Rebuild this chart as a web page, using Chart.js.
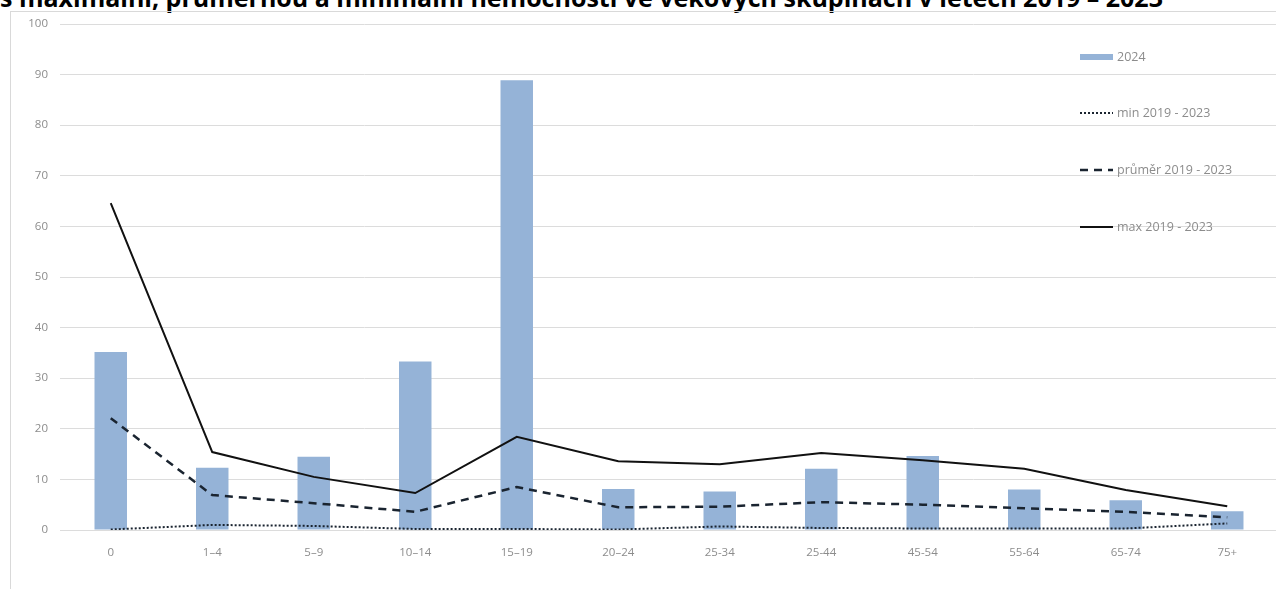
<!DOCTYPE html>
<html lang="cs">
<head>
<meta charset="utf-8">
<script src="https://cdn.jsdelivr.net/npm/chart.js@4.4.1/dist/chart.umd.min.js"></script>
<style>
  html, body { margin: 0; padding: 0; background: #fff; overflow: hidden; }
  body { width: 1276px; height: 589px; position: relative; }
  #title {
    position: absolute; left: 0; top: -20px; white-space: nowrap;
    font: bold 25px "Open Sans", "Liberation Sans", sans-serif; color: #000;
  }
  #frame {
    position: absolute; left: 10px; top: 11px; width: 1280px; height: 600px;
    border-left: 1px solid #d9d9d9; border-top: 1px solid #d9d9d9;
  }
  #wrap { position: absolute; left: 0; top: 0; width: 1280px; height: 589px; }
</style>
</head>
<body>
<div id="title">s maximální, průměrnou a minimální nemocností ve věkových skupinách v letech 2019 – 2023</div>
<div id="frame"></div>
<div id="wrap"><canvas id="chart"></canvas></div>
<script>
// Age groups (x axis)
const ageGroups = ['0', '1–4', '5–9', '10–14', '15–19', '20–24', '25-34', '25-44', '45-54', '55-64', '65-74', '75+'];

// Series
const values2024 = [35.2, 12.3, 14.5, 33.3, 88.9, 8.1, 7.6, 12.1, 14.6, 8.0, 5.9, 3.7];
const minValues = [0.1, 1.0, 0.8, 0.2, 0.2, 0.1, 0.7, 0.4, 0.3, 0.3, 0.3, 1.3];
const meanValues = [22.1, 6.9, 5.3, 3.6, 8.5, 4.5, 4.6, 5.5, 5.0, 4.3, 3.6, 2.5];
const maxValues = [64.6, 15.4, 10.5, 7.3, 18.4, 13.6, 13.0, 15.2, 13.8, 12.1, 7.9, 4.7];

const yTicks = [0, 10, 20, 30, 40, 50, 60, 70, 80, 90, 100];

const barColor = '#95b3d7';
const tickColor = '#8c8c8c';
const gridColor = '#dcdcdc';
const fontFamily = '"Open Sans", "Liberation Sans", sans-serif';

// Legend drawn inside the plot, one entry per row like the original
const plotLegend = {
  id: 'plotLegend',
  afterDraw(chart) {
    const ctx = chart.ctx;
    const x0 = 1080, x1 = 1113;
    const rows = [57, 113, 170, 227];
    ctx.save();
    ctx.font = '12.5px ' + fontFamily;
    ctx.textBaseline = 'middle';
    chart.data.datasets.forEach((ds, i) => {
      const y = rows[i];
      if (ds.type === 'bar') {
        ctx.fillStyle = ds.backgroundColor;
        ctx.fillRect(x0, y - 3, x1 - x0, 6);
      } else {
        ctx.strokeStyle = ds.borderColor;
        ctx.lineWidth = ds.borderWidth;
        ctx.setLineDash(ds.borderDash || []);
        ctx.beginPath();
        ctx.moveTo(x0, y);
        ctx.lineTo(x1, y);
        ctx.stroke();
        ctx.setLineDash([]);
      }
      ctx.fillStyle = tickColor;
      ctx.fillText(ds.label, x1 + 4, y);
    });
    ctx.restore();
  }
};

const ctx = document.getElementById('chart').getContext('2d');
const chart = new Chart(ctx, {
  data: {
    labels: ageGroups,
    datasets: [
      {
        type: 'bar',
        label: '2024',
        data: values2024,
        backgroundColor: barColor,
        barPercentage: 0.32,
        categoryPercentage: 1,
        order: 4,
      },
      {
        type: 'line',
        label: 'min 2019 - 2023',
        data: minValues,
        borderColor: '#1a2430',
        borderWidth: 2,
        borderDash: [2, 2],
        pointRadius: 0,
        tension: 0,
        order: 1,
      },
      {
        type: 'line',
        label: 'průměr 2019 - 2023',
        data: meanValues,
        borderColor: '#1a2430',
        borderWidth: 2.5,
        borderDash: [8, 6],
        pointRadius: 0,
        tension: 0,
        order: 2,
      },
      {
        type: 'line',
        label: 'max 2019 - 2023',
        data: maxValues,
        borderColor: '#111111',
        borderWidth: 2,
        pointRadius: 0,
        tension: 0,
        order: 3,
      },
    ],
  },
  options: {
    responsive: true,
    maintainAspectRatio: false,
    animation: false,
    layout: { padding: { left: 0, top: 24, right: 2, bottom: 0 } },
    plugins: {
      legend: { display: false },
      tooltip: { enabled: false },
    },
    scales: {
      x: {
        grid: { display: false },
        border: { display: false },
        ticks: { color: tickColor, font: { size: 11.5, family: fontFamily }, padding: 8, maxRotation: 0 },
        afterFit(scale) { scale.height = 59; },
      },
      y: {
        min: 0,
        max: 100,
        afterBuildTicks(scale) { scale.ticks = yTicks.map(v => ({ value: v })); },
        grid: { color: gridColor, lineWidth: 1, drawTicks: false },
        border: { display: false },
        ticks: { color: tickColor, font: { size: 11.5, family: fontFamily }, padding: 12 },
        afterFit(scale) { scale.width = 60; },
      },
    },
  },
  plugins: [plotLegend],
});
</script>
</body>
</html>
